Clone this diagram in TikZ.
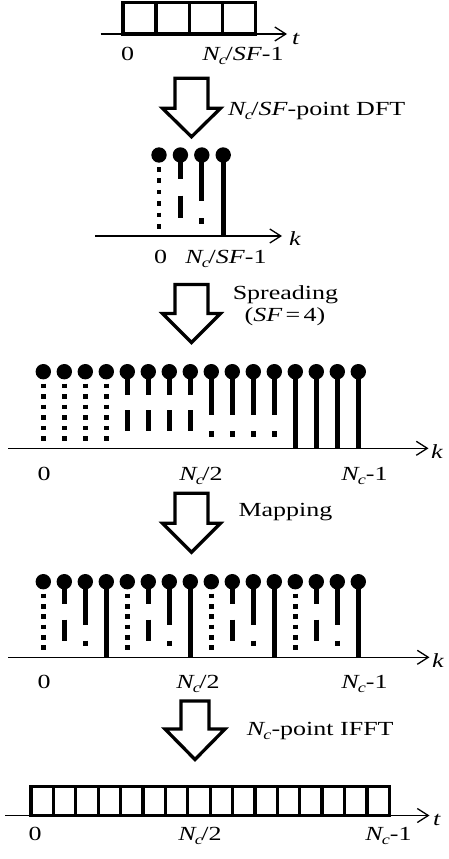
\documentclass[tikz,border=0pt]{standalone}
\usepackage{fontspec}
\setmainfont{Liberation Serif}[FakeStretch=1.3]
\usetikzlibrary{arrows.meta}
\newcommand{\Nc}{\textit{N}\kern-2pt\raisebox{-4.5pt}{\fontsize{14}{14}\selectfont\textit{c}}}
\newcommand{\ballat}[2]{\fill (#1,#2) circle[radius=7.7pt];}
\newcommand{\stemA}[3]{%
  \pgfmathsetmacro{\myL}{#3-#2}%
  \foreach \k in {0,...,5}{%
    \pgfmathsetmacro{\ys}{#2+12+\k*(\myL-24)/5}%
    \draw[stemln] (#1,\ys) -- (#1,{\ys+4.6});%
  }%
  \ballat{#1}{#2}}
\newcommand{\stemB}[3]{%
  \pgfmathsetmacro{\myL}{#3-#2}%
  \draw[stemln] (#1,#2) -- (#1,{#2+0.3*\myL});%
  \draw[stemln] (#1,{#2+0.5*\myL}) -- (#1,{#2+0.78*\myL});%
  \ballat{#1}{#2}}
\newcommand{\stemC}[3]{%
  \pgfmathsetmacro{\myL}{#3-#2}%
  \draw[stemln] (#1,#2) -- (#1,{#2+0.57*\myL});%
  \draw[stemln] (#1,{#2+0.78*\myL}) -- (#1,{#2+0.85*\myL});%
  \ballat{#1}{#2}}
\newcommand{\stemD}[3]{%
  \draw[stemln] (#1,#2) -- (#1,#3);%
  \ballat{#1}{#2}}
% cx, top, shaft half width, head half width, shaft length, head length
\newcommand{\blockarrow}[6]{%
  \draw[barrow] ({#1-#3},#2) -- ({#1+#3},#2) -- ({#1+#3},{#2+#5}) -- ({#1+#4},{#2+#5})
    -- (#1,{#2+#5+#6}) -- ({#1-#4},{#2+#5}) -- ({#1-#3},{#2+#5}) -- cycle;}
\begin{document}
\begin{tikzpicture}[x=1pt,y=-1pt,
  lab/.style={inner sep=0pt, font=\fontsize{20}{24}\selectfont},
  axis/.style={line width=1.3pt, -{Straight Barb[length=11pt,width=14pt]}},
  boxln/.style={line width=3.3pt, line join=miter},
  stemln/.style={line width=4.8pt, line cap=butt},
  barrow/.style={line width=3.3pt, line join=miter, fill=white}]
\useasboundingbox (0,0) rectangle (449,859);

% ---------- section 1: time-domain input ----------
\coordinate (a1s) at (100.7,34);
\coordinate (a1e) at (287,34);
\draw[axis] (a1s) -- (a1e);
\node[lab, anchor=base west] (t1) at (292,45) {\textit{t}};
\draw[boxln] (123,2.3) rectangle (255.3,34);
\foreach \i in {1,2,3}{\draw[boxln] ({123+33.08*\i},2.3) -- ({123+33.08*\i},34);}
\node[lab, anchor=base] (l1a) at (127.5,60) {0};
\node[lab, anchor=base] (l1b) at (243,60) {\Nc\kern-1.5pt/\textit{SF}-1};

% arrow 1
\blockarrow{191.5}{78.3}{16.5}{29}{30}{28.5}
\node[lab, anchor=base west] (d1) at (228,115) {\Nc\kern-1.5pt/\textit{SF}-point DFT};

% ---------- section 2: DFT output ----------
\coordinate (a2s) at (95,236);
\coordinate (a2e) at (282,236);
\draw[axis] (a2s) -- (a2e);
\node[lab, anchor=base west] (k2) at (289,245.5) {\textit{k}};
\foreach \i/\tp in {0/A,1/B,2/C,3/D}{%
  \pgfmathsetmacro{\xx}{159+21.4*\i}%
  \csname stem\tp\endcsname{\xx}{155}{236}}
\node[lab, anchor=base] (l2a) at (160.5,263) {0};
\node[lab, anchor=base] (l2b) at (226,263) {\Nc\kern-1.5pt/\textit{SF}-1};

% arrow 2
\blockarrow{191.5}{284.5}{16.5}{29}{29}{29}
\node[lab, anchor=base] (d2a) at (285.5,299.3) {Spreading};
\node[lab, anchor=base] (d2b) at (285,321.7) {(\textit{SF}\,=\,4)};

% ---------- section 3: spread spectrum ----------
\coordinate (a3s) at (8.3,448.3);
\coordinate (a3e) at (428.5,448.3);
\draw[axis] (a3s) -- (a3e);
\node[lab, anchor=base west] (k3) at (431,458) {\textit{k}};
\foreach \i in {0,...,15}{%
  \pgfmathsetmacro{\xx}{43.3+21*\i}%
  \ifnum\i<4 \stemA{\xx}{371.7}{448.3}%
  \else\ifnum\i<8 \stemB{\xx}{371.7}{448.3}%
  \else\ifnum\i<12 \stemC{\xx}{371.7}{448.3}%
  \else \stemD{\xx}{371.7}{448.3}\fi\fi\fi}
\node[lab, anchor=base] (l3a) at (44,480) {0};
\node[lab, anchor=base] (l3b) at (201,480) {\Nc\kern-1.5pt/2};
\node[lab, anchor=base] (l3c) at (364.5,480) {\Nc-1};

% arrow 3
\blockarrow{191.5}{493.3}{16.5}{29}{30}{29}
\node[lab, anchor=base west] (d3) at (238.3,516.7) {Mapping};

% ---------- section 4: mapped spectrum ----------
\coordinate (a4s) at (8.3,657.3);
\coordinate (a4e) at (429.5,657.3);
\draw[axis] (a4s) -- (a4e);
\node[lab, anchor=base west] (k4) at (432,667) {\textit{k}};
\foreach \i/\tp in {0/A,1/B,2/C,3/D,4/A,5/B,6/C,7/D,8/A,9/B,10/C,11/D,12/A,13/B,14/C,15/D}{%
  \pgfmathsetmacro{\xx}{43.3+21*\i}%
  \csname stem\tp\endcsname{\xx}{581.7}{657.3}}
\node[lab, anchor=base] (l4a) at (44,688) {0};
\node[lab, anchor=base] (l4b) at (198,688) {\Nc\kern-1.5pt/2};
\node[lab, anchor=base] (l4c) at (364.5,688) {\Nc-1};

% arrow 4
\blockarrow{195}{701}{14}{30}{28}{30.5}
\node[lab, anchor=base west] (d4) at (246.7,735) {\Nc-point IFFT};

% ---------- section 5: time-domain output ----------
\coordinate (a5s) at (5,815.5);
\coordinate (a5e) at (429.5,815.5);
\draw[axis] (a5s) -- (a5e);
\node[lab, anchor=base west] (t5) at (433,825) {\textit{t}};
\draw[boxln] (31,786.3) rectangle (389.3,815.5);
\foreach \i in {1,...,15}{\draw[boxln] ({31+22.394*\i},786.3) -- ({31+22.394*\i},815.5);}
\node[lab, anchor=base] (l5a) at (35,840) {0};
\node[lab, anchor=base] (l5b) at (200,840) {\Nc\kern-1.5pt/2};
\node[lab, anchor=base] (l5c) at (388.5,840) {\Nc-1};
\end{tikzpicture}
\end{document}
